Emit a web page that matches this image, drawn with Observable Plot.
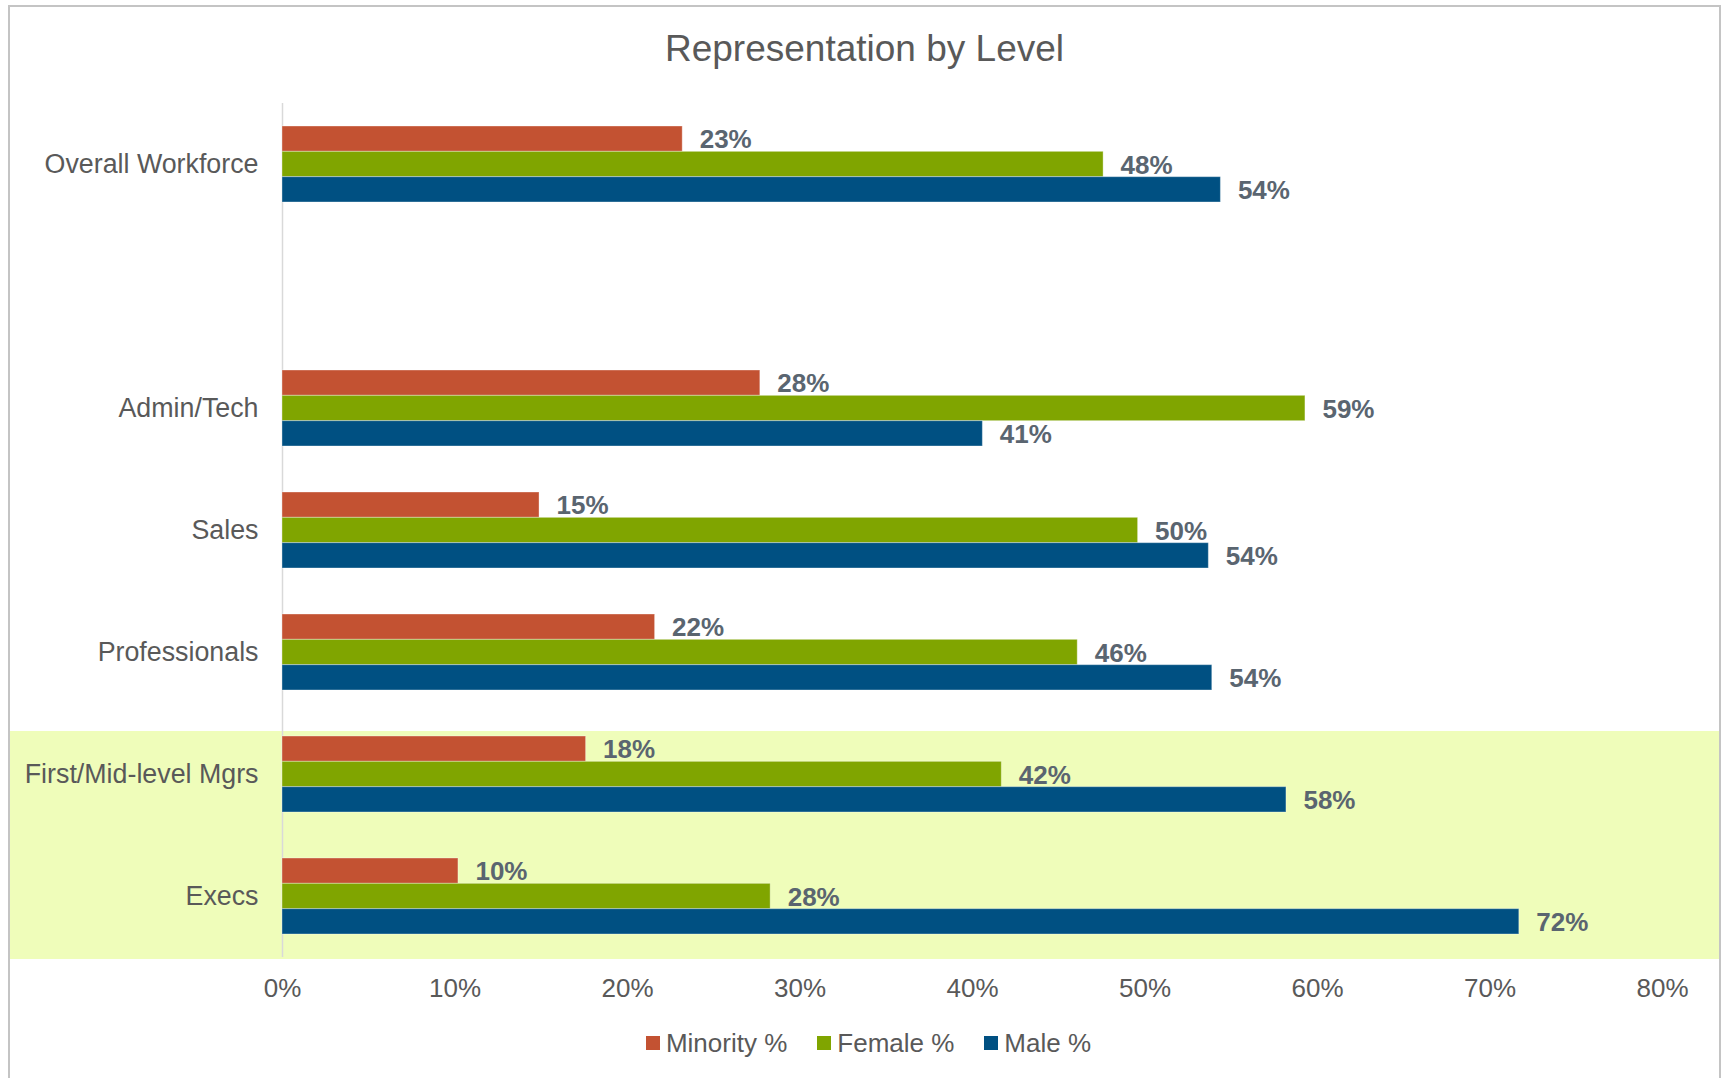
<!DOCTYPE html>
<html><head><meta charset="utf-8">
<script src="https://cdn.jsdelivr.net/npm/d3@7"></script>
<script src="https://cdn.jsdelivr.net/npm/@observablehq/plot@0.6"></script>
<style>
html,body{margin:0;padding:0;background:#fff;overflow:hidden;}
body{width:1723px;height:1078px;position:relative;font-family:"Liberation Sans",Arial,sans-serif;}
#frame{position:absolute;left:8px;top:5px;width:1713px;height:1100px;border:2px solid #c4c4c4;box-sizing:border-box;overflow:hidden;background:#fff;}
#title{position:absolute;left:0;right:0;top:24px;text-align:center;font-size:37px;line-height:36px;color:#595959;}
#chart{position:absolute;left:0;top:73px;}
#legend{position:absolute;left:0;right:0;top:1021px;height:30px;display:flex;justify-content:center;align-items:center;font-size:26px;line-height:30px;color:#595959;padding-left:8px;box-sizing:border-box;}
#legend .item{display:flex;align-items:center;margin-right:30px;}
#legend .item:last-child{margin-right:0;}
#legend .sw{width:14px;height:14px;margin-right:6px;display:inline-block;}
</style>
</head><body>
<div id="frame">
  <div id="title">Representation by Level</div>
  <div id="chart"></div>
  <div id="legend"></div>
</div>
<script>
const categories = ["Overall Workforce", " ", "Admin/Tech", "Sales", "Professionals", "First/Mid-level Mgrs", "Execs"];
const series = ["Minority %", "Female %", "Male %"];
const colors = ["#C35232", "#80A500", "#005082"];
const minority = [0.232, null, 0.277, 0.149, 0.216, 0.176, 0.102];
const female   = [0.476, null, 0.593, 0.496, 0.461, 0.417, 0.283];
const male     = [0.544, null, 0.406, 0.537, 0.539, 0.582, 0.717];
const xTicks = [0, 0.1, 0.2, 0.3, 0.4, 0.5, 0.6, 0.7, 0.8];
const highlighted = ["First/Mid-level Mgrs", "Execs"];

const seriesValues = [minority, female, male];
const rows = [];
series.forEach((s, k) => {
  categories.forEach((c, i) => {
    const v = seriesValues[k][i];
    if (v != null) rows.push({category: c, series: s, k, value: v});
  });
});

const W = 1709, H = 932;
const mTop = 23, mBottom = 55, mLeft = 272, mRight = 57;
const padInner = 0.377;
const step = (H - mTop - mBottom) / categories.length;
const bw = step * (1 - padInner);
const third = bw / 3;

const highlight = (index, scales, values, dims) => {
  const y0 = scales.y(highlighted[0]) - 5;
  const y1 = dims.height - dims.marginBottom + 2;
  return d3.create("svg:rect")
    .attr("class", "hl")
    .attr("x", 0).attr("y", y0)
    .attr("width", dims.width).attr("height", y1 - y0)
    .attr("fill", "#EFFDBA").node();
};

const marks = [highlight, Plot.ruleX([0], {stroke: "#d9d9d9", strokeWidth: 1.5})];
series.forEach((s, k) => {
  const data = rows.filter(d => d.k === k);
  marks.push(Plot.barX(data, {
    x: "value", y: "category", fill: colors[k],
    stroke: "#ffffff", strokeOpacity: 0.35, strokeWidth: 1,
    insetTop: k * third, insetBottom: (2 - k) * third
  }));
  marks.push(Plot.text(data, {
    x: "value", y: "category", text: d => d3.format(".0%")(d.value),
    dx: 17, dy: (k - 1) * third + 1, textAnchor: "start",
    fontWeight: "bold", fontSize: 26, fill: "#5A6570"
  }));
});

const chart = Plot.plot({
  width: W, height: H,
  marginTop: mTop, marginBottom: mBottom, marginLeft: mLeft, marginRight: mRight,
  style: {fontFamily: "'Liberation Sans', Arial, sans-serif", fontSize: "26px", color: "#595959", background: "transparent", overflow: "visible"},
  x: {domain: [0, 0.8], ticks: xTicks, tickFormat: d3.format(".0%"), tickSize: 0, tickPadding: 21.5, label: null},
  y: {domain: categories, paddingInner: padInner, paddingOuter: padInner / 2, tickSize: 0, tickPadding: 24, label: null},
  marks
});
// keep the highlight band behind the axes
const hl = chart.querySelector("rect.hl");
if (hl) {
  const first = Array.from(chart.children).find(el => el.tagName.toLowerCase() !== "style");
  chart.insertBefore(hl, first);
}
// slightly larger category labels
chart.querySelectorAll("g[aria-label='y-axis tick label'] text, g[aria-label='y-axis'] text").forEach(t => t.setAttribute("font-size", "26.8"));
document.getElementById("chart").appendChild(chart);

const legend = document.getElementById("legend");
series.forEach((s, k) => {
  const item = document.createElement("div");
  item.className = "item";
  const sw = document.createElement("span");
  sw.className = "sw";
  sw.style.background = colors[k];
  const t = document.createElement("span");
  t.textContent = s;
  item.appendChild(sw); item.appendChild(t);
  legend.appendChild(item);
});
</script>
</body></html>
